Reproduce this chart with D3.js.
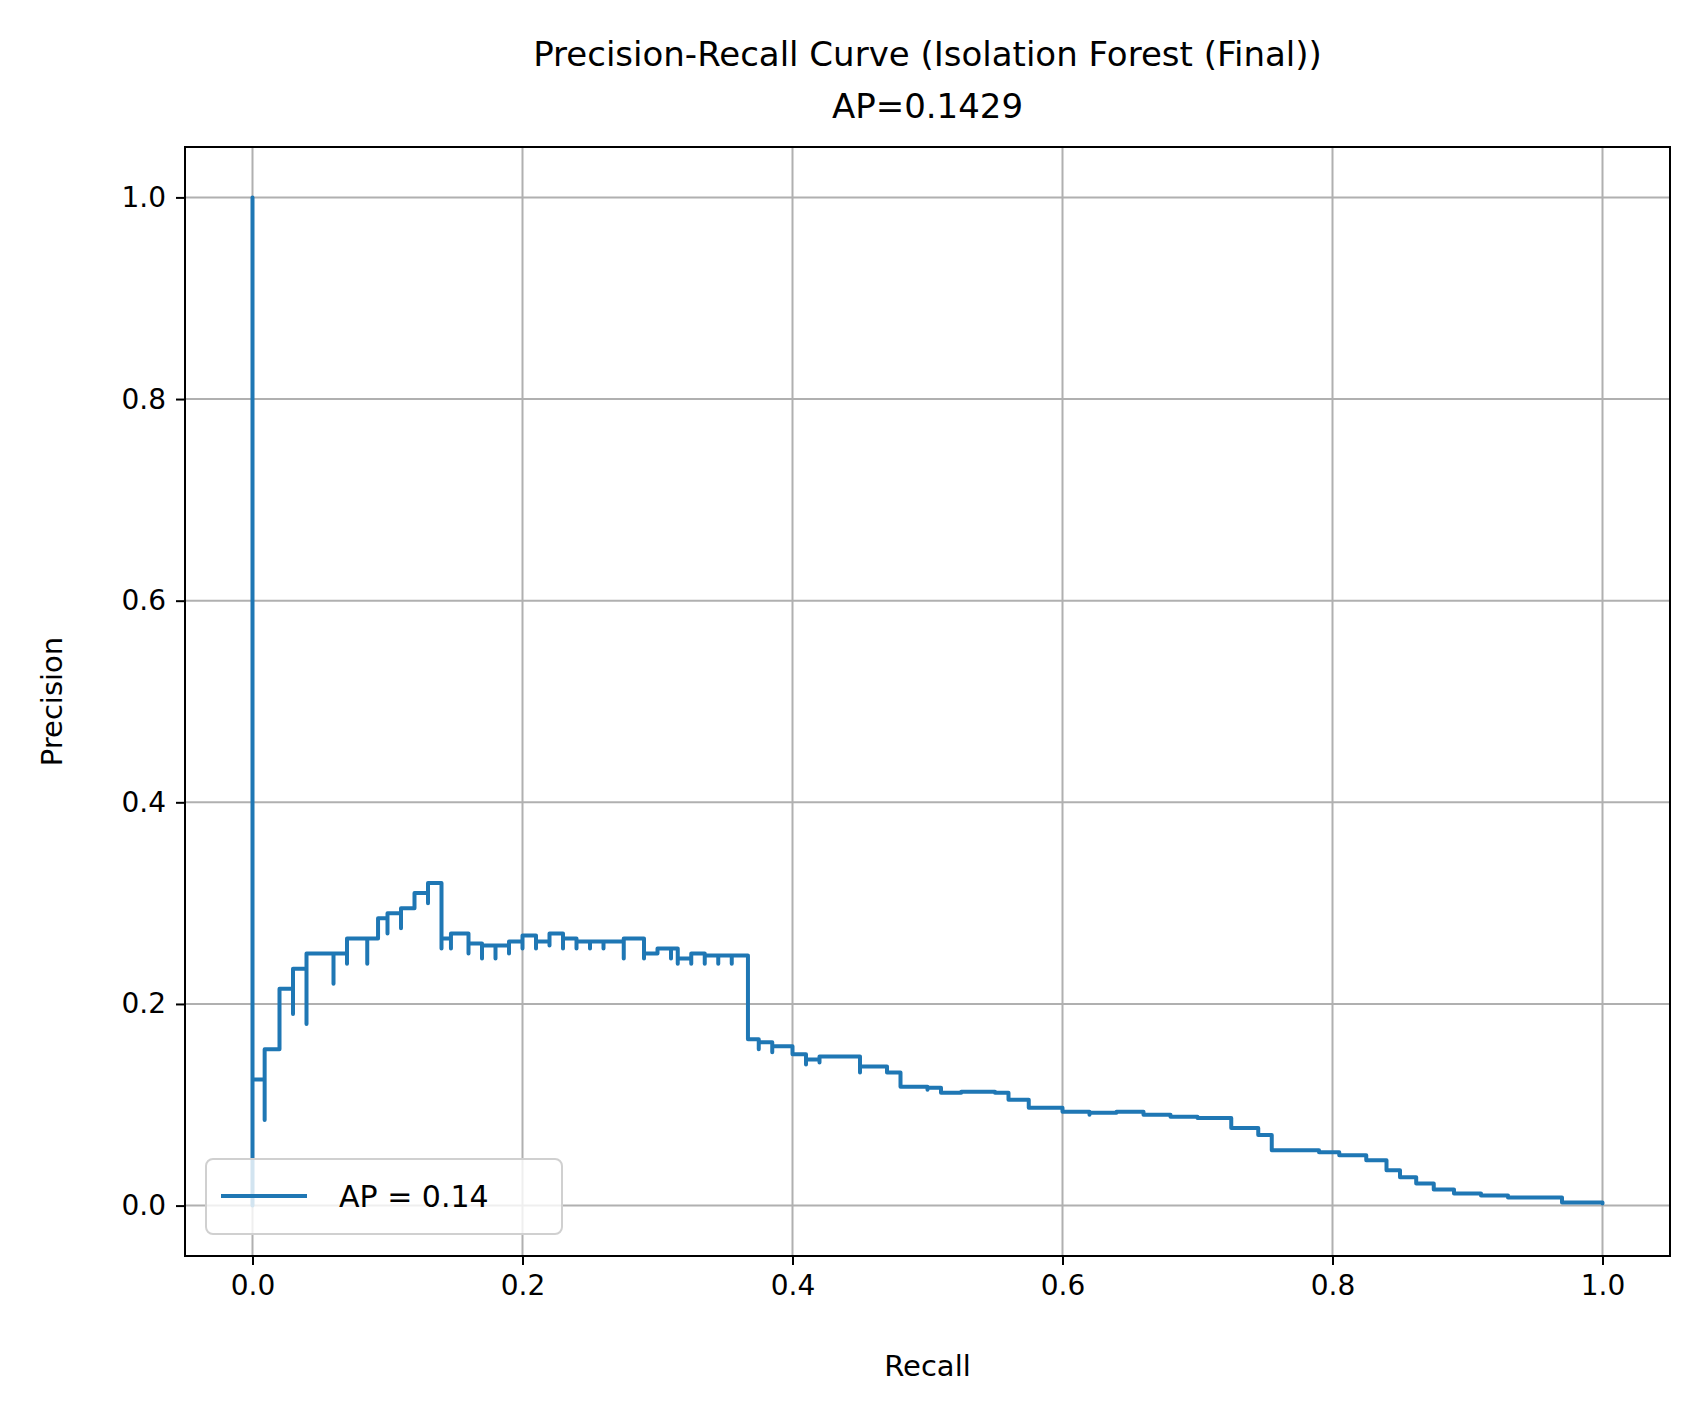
<!DOCTYPE html>
<html><head><meta charset="utf-8">
<script src="https://cdn.jsdelivr.net/npm/d3@7"></script>
<style>body{margin:0;background:#fff} text{font-family:"DejaVu Sans",sans-serif}</style>
</head><body><div id="chart"></div>
<script>
// Each step starts at stepRecall[i] with precision stepPrecision[i];
// stepDip[i] (if not null) is the short downward spike right at that transition.
const stepRecall    = [0,    0.009, 0.02,  0.03,  0.04, 0.06, 0.07,  0.085, 0.093, 0.1,   0.11,  0.12, 0.13,  0.14,  0.147, 0.16, 0.17,  0.18,  0.19,  0.2,   0.21,  0.22,  0.23,  0.24,  0.25,  0.26,  0.275, 0.29,  0.3,   0.31,  0.315, 0.325, 0.335, 0.345, 0.355, 0.367, 0.375, 0.385, 0.4,   0.41,  0.42,  0.44,  0.45,  0.47,  0.48,  0.5,   0.51,  0.525, 0.55,  0.56,  0.575, 0.6,   0.62,  0.64,  0.66,  0.68,  0.7,   0.725, 0.745, 0.755, 0.79,  0.805, 0.825, 0.84,  0.85,  0.862, 0.875, 0.89,  0.91,  0.93,  0.97];
const stepPrecision = [0.125,0.155, 0.215, 0.235, 0.25, 0.25, 0.265, 0.265, 0.285, 0.29,  0.295, 0.31, 0.32,  0.265, 0.27,  0.26, 0.258, 0.258, 0.262, 0.268, 0.262, 0.27,  0.265, 0.262, 0.262, 0.262, 0.265, 0.25,  0.255, 0.255, 0.245, 0.25,  0.248, 0.248, 0.248, 0.165, 0.162, 0.158, 0.15,  0.145, 0.148, 0.148, 0.138, 0.132, 0.118, 0.117, 0.112, 0.113, 0.112, 0.105, 0.097, 0.093, 0.092, 0.093, 0.09,  0.088, 0.087, 0.077, 0.07,  0.055, 0.053, 0.05,  0.045, 0.035, 0.028, 0.022, 0.016, 0.012, 0.01,  0.008, 0.003];
const stepDip       = [null, 0.085, null,  0.19,  0.18, 0.22, 0.24,  0.24,  null,  0.27,  0.275, null, 0.30,  0.255, 0.255, 0.25, 0.245, 0.245, 0.25,  0.255, 0.255, 0.258, 0.255, 0.255, 0.255, 0.255, 0.245, 0.245, null,  0.245, 0.24,  0.24,  0.24,  0.24,  0.24,  null,  0.155, 0.152, null,  0.14,  0.142, null,  0.132, null,  null,  0.115, null,  null,  null,  null,  null,  null,  0.09,  null,  null,  null,  null,  null,  null,  null,  null,  null,  null,  null,  null,  null,  null,  null,  null,  null,  null];
const endRecall = 1.0, endPrecision = 0.002;
const xTicks = [0,0.2,0.4,0.6,0.8,1.0];
const yTicks = [0,0.2,0.4,0.6,0.8,1.0];

const W = 1702, H = 1417;
const m = {left:185, right:1670, top:147, bottom:1256};
const svg = d3.select('#chart').append('svg').attr('width', W).attr('height', H);

const x = d3.scaleLinear().domain([-0.05,1.05]).range([m.left, m.right]);
const y = d3.scaleLinear().domain([-0.05,1.05]).range([m.bottom, m.top]);

// grid
svg.append('g').selectAll('line').data(xTicks).join('line')
  .attr('x1', d => x(d)).attr('x2', d => x(d)).attr('y1', m.top).attr('y2', m.bottom)
  .attr('stroke', '#b0b0b0').attr('stroke-width', 2);
svg.append('g').selectAll('line').data(yTicks).join('line')
  .attr('y1', d => y(d)).attr('y2', d => y(d)).attr('x1', m.left).attr('x2', m.right)
  .attr('stroke', '#b0b0b0').attr('stroke-width', 2);

// build step points
const pts = [[0, 0], [0, 1.0]];
stepRecall.forEach((r, i) => {
  if (stepDip[i] !== null) pts.push([r, stepDip[i]]);
  pts.push([r, stepPrecision[i]]);
});
pts.push([endRecall, endPrecision]);

const line = d3.line().x(d => x(d[0])).y(d => y(d[1])).curve(d3.curveStepAfter);
svg.append('path').datum(pts).attr('d', line).attr('fill', 'none')
  .attr('stroke', '#1f77b4').attr('stroke-width', 4).attr('stroke-linejoin', 'round').attr('stroke-linecap', 'round');

// axes
const xAxis = svg.append('g').attr('transform', `translate(0,${m.bottom})`)
  .call(d3.axisBottom(x).tickValues(xTicks).tickFormat(d3.format('.1f')).tickSize(9).tickPadding(10));
const yAxis = svg.append('g').attr('transform', `translate(${m.left},0)`)
  .call(d3.axisLeft(y).tickValues(yTicks).tickFormat(d3.format('.1f')).tickSize(9).tickPadding(10));
[xAxis, yAxis].forEach(a => {
  a.select('.domain').remove();
  a.selectAll('line').attr('stroke', '#000').attr('stroke-width', 2);
  a.selectAll('text').attr('font-size', 28).attr('fill', '#000').style('font-family', '"DejaVu Sans"');
});
svg.append('rect').attr('x', m.left).attr('y', m.top).attr('width', m.right - m.left)
  .attr('height', m.bottom - m.top).attr('fill', 'none').attr('stroke', '#000').attr('stroke-width', 2);

// labels
svg.append('text').attr('x', (m.left + m.right) / 2).attr('y', 66).attr('text-anchor', 'middle')
  .attr('font-size', 34).text('Precision-Recall Curve (Isolation Forest (Final))');
svg.append('text').attr('x', (m.left + m.right) / 2).attr('y', 118).attr('text-anchor', 'middle')
  .attr('font-size', 34).text('AP=0.1429');
svg.append('text').attr('x', (m.left + m.right) / 2).attr('y', 1376).attr('text-anchor', 'middle')
  .attr('font-size', 29).text('Recall');
svg.append('text').attr('transform', `translate(62,${(m.top + m.bottom) / 2}) rotate(-90)`)
  .attr('text-anchor', 'middle').attr('font-size', 29).text('Precision');

// legend
const lg = svg.append('g');
lg.append('rect').attr('x', 206).attr('y', 1159).attr('width', 356).attr('height', 75).attr('rx', 7)
  .attr('fill', 'rgba(255,255,255,0.8)').attr('stroke', '#d0d0d0').attr('stroke-width', 2);
lg.append('line').attr('x1', 221).attr('x2', 307).attr('y1', 1196).attr('y2', 1196)
  .attr('stroke', '#1f77b4').attr('stroke-width', 4);
lg.append('text').attr('x', 339).attr('y', 1207).attr('font-size', 30).text('AP = 0.14');
</script></body></html>
